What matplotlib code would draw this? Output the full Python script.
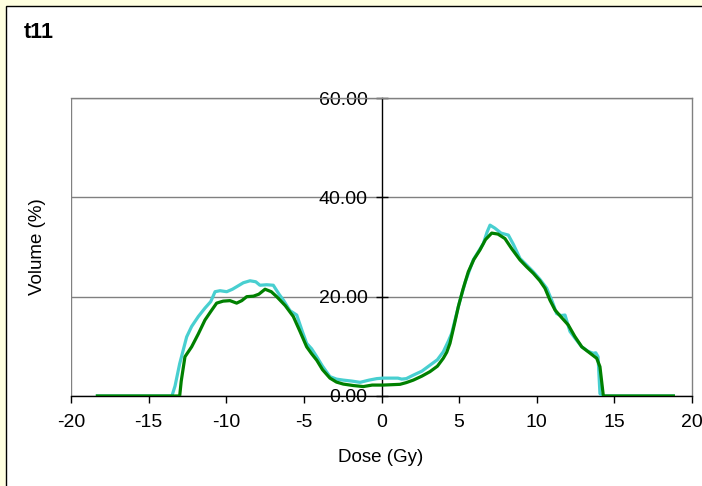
import matplotlib
matplotlib.use("Agg")
import matplotlib.pyplot as plt
from matplotlib.patches import Rectangle

plt.rcParams['font.family'] = ['Liberation Sans', 'DejaVu Sans']

title = "t11"
x_label = "Dose (Gy)"
y_label = "Volume (%)"
x_ticks = [-20, -15, -10, -5, 0, 5, 10, 15, 20]
y_ticks = [0, 20, 40, 60]
y_tick_labels = ["0.00", "20.00", "40.00", "60.00"]

cyan_x = [-18.3, -13.5, -13.3, -13.0, -12.55, -12.23, -11.8, -11.37, -11.0, -10.72,
          -10.4, -9.97, -9.6, -9.33, -8.9, -8.47, -8.1, -7.83, -7.4, -6.97,
          -6.6, -6.32, -5.9, -5.46, -5.1, -4.82, -4.5, -4.17, -3.8, -3.32,
          -2.9, -2.46, -1.9, -1.38, -0.8, -0.3, 0.1, 1.06, 1.3, 1.6,
          2.05, 2.6, 3.12, 3.6, 3.98, 4.3, 4.52, 4.75, 5.0, 5.4,
          5.91, 6.56, 6.8, 6.99, 7.3, 7.7, 8.17, 8.5, 8.92, 9.4,
          9.78, 10.2, 10.64, 11.0, 11.28, 11.55, 11.82, 12.14, 12.5, 12.9,
          13.3, 13.64, 13.8, 13.95, 14.07, 14.2, 18.8]
cyan_y = [0, 0, 2, 6.5, 11.9, 14, 16, 17.7, 19, 21,
          21.2, 21, 21.5, 22, 22.8, 23.2, 23.0, 22.3, 22.4, 22.3,
          20.5, 19.3, 17.2, 16.3, 13, 10.6, 9.5, 7.9, 6, 3.9,
          3.4, 3.2, 3.0, 2.75, 3.2, 3.5, 3.6, 3.6, 3.4, 3.5,
          4.2, 5.0, 6.2, 7.3, 8.9, 11, 12.6, 15.5, 18.6, 23,
          27.4, 30.7, 33.0, 34.4, 33.8, 32.8, 32.4, 30.5, 27.7, 26.2,
          25, 23.5, 21.7, 19, 16.6, 16.2, 16.3, 13, 11.5, 9.9,
          9.0, 8.6, 8.7, 7.9, 0.5, 0, 0]

green_x = [-18.3, -13.0, -12.9, -12.66, -12.23, -11.8, -11.37, -11.0, -10.62, -10.2,
           -9.76, -9.33, -9.0, -8.68, -8.25, -7.9, -7.5, -7.1, -6.75, -6.2,
           -5.68, -5.25, -4.82, -4.5, -4.17, -3.8, -3.32, -2.9, -2.46, -1.8,
           -1.17, -0.6, 0.1, 1.19, 1.6, 2.05, 2.6, 3.12, 3.6, 3.98,
           4.2, 4.41, 4.7, 4.95, 5.25, 5.59, 5.95, 6.34, 6.7, 7.1,
           7.5, 7.95, 8.4, 8.92, 9.35, 9.78, 10.2, 10.53, 10.85, 11.18,
           11.6, 12.03, 12.45, 12.9, 13.4, 13.86, 14.07, 14.29, 18.8]
green_y = [0, 0, 3, 7.9, 9.9, 12.5, 15.3, 17, 18.7, 19.1,
           19.2, 18.7, 19.2, 20, 20.1, 20.5, 21.5, 21.0, 20, 18.2,
           16, 13, 9.9, 8.5, 7.2, 5.3, 3.6, 2.8, 2.4, 2.1,
           1.9, 2.2, 2.2, 2.35, 2.7, 3.2, 4.0, 4.9, 6.0, 7.6,
           8.8, 10.6, 14.5, 18, 21.5, 25, 27.5, 29.4, 31.5, 32.8,
           32.6, 31.7, 29.6, 27.4, 26, 24.7, 23.2, 21.7, 19.3, 17.3,
           15.8, 14.3, 12, 9.9, 8.7, 7.6, 5.9, 0, 0]

W, H = 702, 486
fig = plt.figure(figsize=(W / 100, H / 100), dpi=100)
fig.patch.set_facecolor('#FFFFE0')
fig.patches.append(Rectangle((6 / W, -0.05), 1.0, 1 - 6 / H + 0.05,
                             transform=fig.transFigure, facecolor='white',
                             edgecolor='black', linewidth=1.0, zorder=-5))

ax = fig.add_axes([71 / W, 1 - 396 / H, (692 - 71) / W, (396 - 98) / H])
ax.set_zorder(2)
ax.set_facecolor('white')

ax.plot(cyan_x, cyan_y, color='#48CFD0', linewidth=2.3, zorder=3)
ax.plot(green_x, green_y, color='#008000', linewidth=2.3, zorder=4)

ax.set_xlim(-20, 20)
ax.set_ylim(0, 60)
ax.set_xticks(x_ticks)
ax.set_xticklabels([str(v) for v in x_ticks])
ax.set_yticks(y_ticks)
ax.set_yticklabels(y_tick_labels)

ax.yaxis.grid(True, color='#808080', linewidth=1.0, zorder=1)
ax.set_axisbelow(True)

for s in ['top', 'right']:
    ax.spines[s].set_color('#808080')
    ax.spines[s].set_linewidth(1.0)
ax.spines['left'].set_position(('data', 0))
ax.spines['left'].set_color('black')
ax.spines['left'].set_linewidth(1.0)
ax.spines['left'].set_zorder(2)
ax.spines['bottom'].set_color('black')
ax.spines['bottom'].set_linewidth(1.0)
ax.axvline(-20, color='#808080', linewidth=1.0, zorder=1)

ax.tick_params(axis='y', direction='inout', length=8, width=1.0, pad=6,
               labelsize=14, colors='black')
ax.tick_params(axis='x', direction='out', length=5, width=1.0, pad=8,
               labelsize=14, colors='black')

fig.text(24 / W, 1 - 32 / H, title, fontsize=15.5, fontweight='bold',
         ha='left', va='center')
fig.text(381 / W, 1 - 457 / H, x_label, fontsize=13.5, ha='center', va='center')
fig.text(37 / W, 1 - 247 / H, y_label, fontsize=13.5, ha='center', va='center',
         rotation=90)

fig.savefig('out.png', dpi=100, facecolor=fig.get_facecolor())
